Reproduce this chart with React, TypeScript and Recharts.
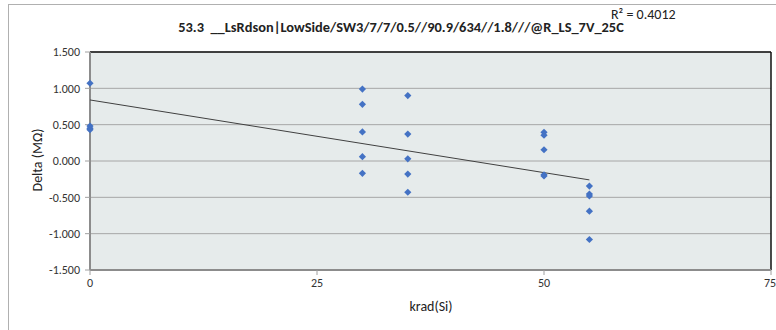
import {
  ScatterChart,
  Scatter,
  XAxis,
  YAxis,
  CartesianGrid,
  ReferenceLine,
} from "recharts"

// dose (krad) of each measured part, with its delta
const doseKrad = [0, 0, 0, 0, 30, 30, 30, 30, 30, 35, 35, 35, 35, 35, 50, 50, 50, 50, 50, 55, 55, 55, 55, 55]
const deltaMOhm = [
  1.07, 0.48, 0.45, 0.43,
  0.99, 0.78, 0.4, 0.06, -0.17,
  0.9, 0.37, 0.03, -0.18, -0.43,
  0.395, 0.355, 0.155, -0.19, -0.205,
  -0.345, -0.455, -0.48, -0.69, -1.08,
]

// linear trendline ends
const trendX = [0, 55]
const trendY = [0.84, -0.26]

const xTicks = [0, 25, 50, 75]
const yTicks = [-1.5, -1, -0.5, 0, 0.5, 1, 1.5]

const points = doseKrad.map((x, i) => ({ x, y: deltaMOhm[i] }))
const trend = trendX.map((x, i) => ({ x, y: trendY[i] }))

const font = "Calibri, 'Liberation Sans', Arial, sans-serif"

function Diamond(props: any) {
  const { cx, cy } = props
  if (cx == null || cy == null) return <g />
  const r = 3.6
  return (
    <polygon
      points={`${cx},${cy - r} ${cx + r},${cy} ${cx},${cy + r} ${cx - r},${cy}`}
      fill="#4472c4"
    />
  )
}

const NoDot = () => <g />

export default function App() {
  return (
    <div style={{ position: "relative", width: 776, height: 330, fontFamily: font }}>
      <style>{"body{margin:0;overflow:hidden}"}</style>
      <div
        style={{
          position: "absolute",
          left: 8,
          top: 4,
          width: 800,
          height: 360,
          border: "1px solid #b0b0b0",
        }}
      />
      <div
        style={{
          position: "absolute",
          left: 401,
          top: 27,
          transform: "translate(-50%, -50%)",
          fontWeight: "bold",
          fontSize: 14.4,
          color: "#222",
          whiteSpace: "pre",
        }}
      >
        {"53.3  __LsRdson|LowSide/SW3/7/7/0.5//90.9/634//1.8///@R_LS_7V_25C"}
      </div>
      <div style={{ position: "absolute", left: 611, top: 6, fontSize: 14, color: "#222" }}>
        R² = 0.4012
      </div>
      <div
        style={{
          position: "absolute",
          left: 37,
          top: 160,
          fontSize: 14,
          color: "#222",
          transform: "translate(-50%, -50%) rotate(-90deg)",
          whiteSpace: "nowrap",
        }}
      >
        Delta (MΩ)
      </div>
      <div
        style={{
          position: "absolute",
          left: 431,
          top: 306,
          fontSize: 14,
          color: "#222",
          transform: "translate(-50%, -50%)",
        }}
      >
        krad(Si)
      </div>
      <ScatterChart
        width={776}
        height={330}
        margin={{ top: 52, right: 5, bottom: 30, left: 0 }}
        style={{ position: "absolute", left: 0, top: 0 }}
      >
        <CartesianGrid vertical={false} stroke="#a6a6a6" fill="#e6ebeb" />
        <XAxis
          type="number"
          dataKey="x"
          domain={[0, 75]}
          ticks={xTicks}
          height={30}
          stroke="#8c8c8c"
          strokeWidth={2}
          tickSize={5}
          tickMargin={3}
          tick={{ fontSize: 12, fill: "#333", fontFamily: font }}
          tickLine={{ stroke: "#a0a0a0", strokeWidth: 1 }}
        />
        <YAxis
          type="number"
          dataKey="y"
          domain={[-1.5, 1.5]}
          ticks={yTicks}
          width={90}
          stroke="#8c8c8c"
          strokeWidth={2}
          tickSize={5}
          tickMargin={5}
          tickFormatter={(v: number) => v.toFixed(3)}
          tick={{ fontSize: 12, fill: "#333", fontFamily: font }}
          tickLine={{ stroke: "#a0a0a0", strokeWidth: 1 }}
        />
        <ReferenceLine y={1.5} stroke="#111" strokeWidth={1.5} />
        <ReferenceLine x={75} stroke="#111" strokeWidth={1.5} />
        <Scatter
          data={trend}
          line={{ stroke: "#404040", strokeWidth: 1 }}
          shape={NoDot}
          isAnimationActive={false}
        />
        <Scatter data={points} shape={Diamond} isAnimationActive={false} />
      </ScatterChart>
    </div>
  )
}
